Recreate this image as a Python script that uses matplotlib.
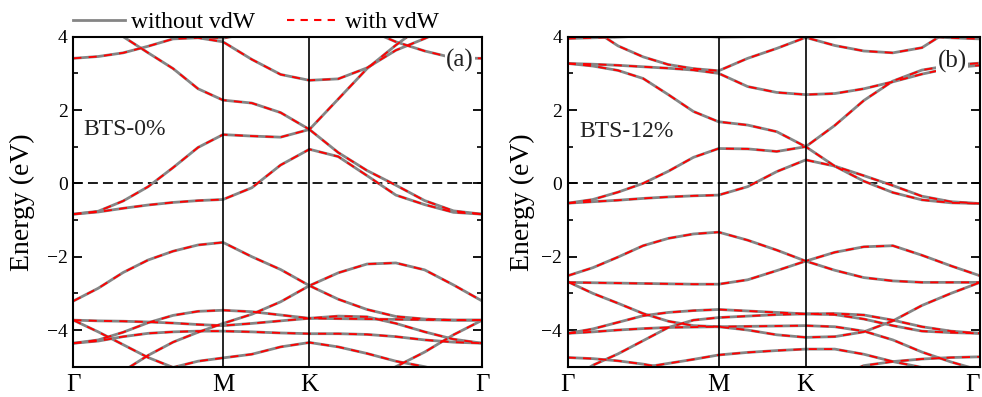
import numpy as np
import matplotlib
matplotlib.use("Agg")
import matplotlib.pyplot as plt
from matplotlib.lines import Line2D
from matplotlib.ticker import MultipleLocator

plt.rcParams['font.family'] = ['Liberation Serif', 'DejaVu Serif']
plt.rcParams['axes.unicode_minus'] = True

# ---------------- data ----------------
# high-symmetry points of the hexagonal path (units of 2pi/a)
kpoint_labels = ['Γ', 'M', 'K', 'Γ']
k_M = 1 / np.sqrt(3)
k_K = k_M + 1 / 3
k_G2 = k_K + 2 / 3
# sampling grid: 6 steps G-M, 3 steps M-K, 6 steps K-G
kgrid = np.concatenate([np.linspace(0, k_M, 7),
                        np.linspace(k_M, k_K, 4)[1:],
                        np.linspace(k_K, k_G2, 7)[1:]])

panel_tags = ['(a)', '(b)']
panel_names = ['BTS-0%', 'BTS-12%']
series_labels = ['without vdW', 'with vdW']

# energies (eV) read at kgrid, panel (a) BTS-0%
bands_a = [
    [-0.84, -0.78, -0.68, -0.59, -0.52, -0.47, -0.44, -0.12, 0.50, 0.93, 0.73, 0.21, -0.32, -0.58, -0.79, -0.84],
    [-0.84, -0.76, -0.48, -0.09, 0.43, 0.98, 1.33, 1.29, 1.26, 1.47, 0.84, 0.35, -0.05, -0.47, -0.75, -0.84],
    [4.60, 4.30, 4.00, 3.56, 3.13, 2.58, 2.27, 2.19, 1.93, 1.47, 2.30, 3.13, 3.77, 4.35, 4.70, 4.90],
    [3.41, 3.46, 3.56, 3.74, 3.94, 3.97, 3.86, 3.38, 2.97, 2.81, 2.85, 3.15, 3.63, 3.95, 4.30, 4.50],
    [4.50, 4.40, 4.25, 4.12, 4.05, 4.00, 3.96, 4.10, 4.30, 4.50, 4.40, 4.20, 3.86, 3.61, 3.42, 3.41],
    [-3.21, -2.86, -2.43, -2.09, -1.85, -1.68, -1.61, -2.00, -2.35, -2.79, -2.44, -2.20, -2.17, -2.36, -2.77, -3.21],
    [-5.90, -5.50, -5.12, -4.69, -4.33, -4.06, -3.82, -3.57, -3.23, -2.79, -3.16, -3.44, -3.63, -3.70, -3.73, -3.73],
    [-3.73, -3.75, -3.76, -3.78, -3.81, -3.85, -3.88, -3.82, -3.75, -3.68, -3.69, -3.70, -3.71, -3.72, -3.73, -3.73],
    [-4.36, -4.27, -4.06, -3.80, -3.60, -3.49, -3.46, -3.50, -3.59, -3.68, -3.62, -3.64, -3.82, -4.05, -4.25, -4.36],
    [-4.36, -4.30, -4.18, -4.09, -4.05, -4.03, -4.03, -4.05, -4.08, -4.10, -4.10, -4.12, -4.18, -4.27, -4.33, -4.36],
    [-3.73, -4.05, -4.40, -4.75, -5.02, -4.85, -4.76, -4.66, -4.46, -4.34, -4.46, -4.64, -4.85, -5.00, -5.20, -5.30],
    [-6.00, -6.00, -6.00, -6.00, -6.00, -6.00, -6.00, -6.00, -6.00, -6.00, -5.80, -5.40, -5.00, -4.60, -4.13, -3.73],
]

# panel (b) BTS-12%
bands_b = [
    [-0.54, -0.50, -0.46, -0.41, -0.37, -0.34, -0.32, -0.09, 0.32, 0.64, 0.47, 0.06, -0.25, -0.45, -0.53, -0.55],
    [-0.54, -0.44, -0.24, 0.00, 0.33, 0.71, 0.95, 0.94, 0.87, 1.00, 0.47, 0.21, -0.06, -0.35, -0.50, -0.55],
    [3.27, 3.20, 3.08, 2.86, 2.42, 1.96, 1.68, 1.59, 1.41, 1.00, 1.58, 2.26, 2.79, 3.09, 3.22, 3.28],
    [3.27, 3.25, 3.22, 3.18, 3.14, 3.09, 3.00, 2.64, 2.48, 2.42, 2.45, 2.58, 2.77, 2.98, 3.15, 3.22],
    [4.60, 4.20, 3.75, 3.45, 3.24, 3.13, 3.07, 3.41, 3.68, 3.98, 3.76, 3.61, 3.56, 3.70, 4.20, 4.40],
    [3.95, 3.97, 3.99, 4.02, 4.05, 4.03, 3.99, 4.00, 4.00, 4.00, 4.00, 4.02, 4.03, 4.01, 3.97, 3.94],
    [-2.52, -2.30, -2.01, -1.70, -1.50, -1.38, -1.33, -1.55, -1.82, -2.12, -1.88, -1.73, -1.70, -1.96, -2.25, -2.52],
    [-2.70, -2.71, -2.72, -2.73, -2.74, -2.75, -2.75, -2.63, -2.38, -2.12, -2.37, -2.57, -2.66, -2.70, -2.70, -2.70],
    [-2.68, -3.00, -3.27, -3.55, -3.76, -3.88, -3.91, -3.90, -3.89, -3.88, -3.91, -4.03, -4.27, -4.60, -4.87, -5.10],
    [-4.09, -3.97, -3.79, -3.61, -3.52, -3.47, -3.44, -3.48, -3.52, -3.56, -3.55, -3.59, -3.73, -3.91, -4.03, -4.09],
    [-4.09, -4.05, -4.00, -3.96, -3.93, -3.92, -3.91, -4.00, -4.13, -4.20, -4.18, -4.05, -3.75, -3.33, -3.00, -2.70],
    [-5.40, -4.96, -4.65, -4.29, -3.93, -3.73, -3.66, -3.62, -3.58, -3.56, -3.58, -3.70, -3.88, -4.03, -4.07, -4.09],
    [-4.75, -4.78, -4.84, -4.93, -5.05, -5.20, -5.30, -5.40, -5.50, -5.60, -5.60, -5.60, -5.60, -5.60, -5.60, -5.60],
    [-5.60, -5.50, -5.30, -5.02, -4.91, -4.80, -4.68, -4.61, -4.56, -4.52, -4.52, -4.66, -4.86, -5.02, -5.20, -5.30],
    [-5.60, -5.60, -5.60, -5.60, -5.60, -5.60, -5.60, -5.60, -5.60, -5.60, -5.30, -4.97, -4.86, -4.79, -4.75, -4.73],
]
# the two calculations coincide to within the line width
bands_a_vdw = bands_a
bands_b_vdw = bands_b

ytick_values = [-4, -2, 0, 2, 4]

# ---------------- figure ----------------
W, H = 982, 397
fig = plt.figure(figsize=(W / 100, H / 100), dpi=100)

axes_px = [(73.3, 482.3), (567.7, 980.0)]
top_px, bot_px = 36.7, 366.7
gray = '#858585'

panels = [(bands_a, bands_a_vdw), (bands_b, bands_b_vdw)]
label_pos = [(83.3, 129.0, 460.0, 60.0, 35.0), (579.7, 131.0, 952.0, 61.0, 535.0)]

for i, (l, r) in enumerate(axes_px):
    ax = fig.add_axes([l / W, 1 - bot_px / H, (r - l) / W, (bot_px - top_px) / H])
    nov, wv = panels[i]
    for b in nov:
        ax.plot(kgrid, b, color=gray, lw=2.0, solid_capstyle='round',
                solid_joinstyle='round', zorder=2)
    for b in wv:
        ax.plot(kgrid, b, color='red', lw=1.3, dashes=(4.5, 4), zorder=3)
    ax.axhline(0, color='#1a1a1a', lw=1.4, dashes=(5.1, 2.6), zorder=1)
    for kv in (k_M, k_K):
        ax.axvline(kv, color='black', lw=1.2, zorder=4)
    ax.set_xlim(0, k_G2)
    ax.set_ylim(-5, 4)
    ax.set_xticks([0, k_M, k_K, k_G2])
    ax.set_xticklabels(kpoint_labels)
    if i == 1:
        ax.get_xticklabels()[-1].set_horizontalalignment('right')
    ax.set_yticks(ytick_values)
    ax.yaxis.set_minor_locator(MultipleLocator(1))
    ax.tick_params(axis='x', length=0, labelsize=18, pad=5)
    ax.tick_params(axis='y', which='major', direction='in', length=6.5, width=1.3,
                   left=True, right=True, labelsize=14, pad=4)
    ax.tick_params(axis='y', which='minor', direction='in', length=3.5, width=1.2,
                   left=True, right=True)
    for s in ax.spines.values():
        s.set_linewidth(1.5)
        s.set_zorder(5)
    ax.set_ylabel('Energy (eV)', fontsize=20)
    bx, by, tx, ty, ylx = label_pos[i]
    ax.yaxis.set_label_coords((ylx - l) / (r - l), 0.5)
    to_k = lambda px: (px - l) / (r - l) * k_G2
    to_e = lambda py: (183.3 - py) / 36.67
    ax.text(to_k(bx), to_e(by), panel_names[i], fontsize=17, ha='left', va='center',
            color='#222222', zorder=6)
    ax.text(to_k(tx), to_e(ty), panel_tags[i], fontsize=18, ha='center', va='center',
            color='#222222', zorder=6,
            bbox=dict(facecolor='white', edgecolor='none', pad=1.0))

handles = [Line2D([], [], color=gray, lw=2.0),
           Line2D([], [], color='red', lw=1.5, dashes=(3.5, 3))]
fig.legend(handles, series_labels, loc='center left',
           bbox_to_anchor=(73.0 / W, 1 - 22.7 / H), ncol=2, frameon=False,
           fontsize=17, handlelength=2.2, handletextpad=0.25, columnspacing=1.35,
           borderpad=0, borderaxespad=0)

fig.savefig('out.png', dpi=100)
